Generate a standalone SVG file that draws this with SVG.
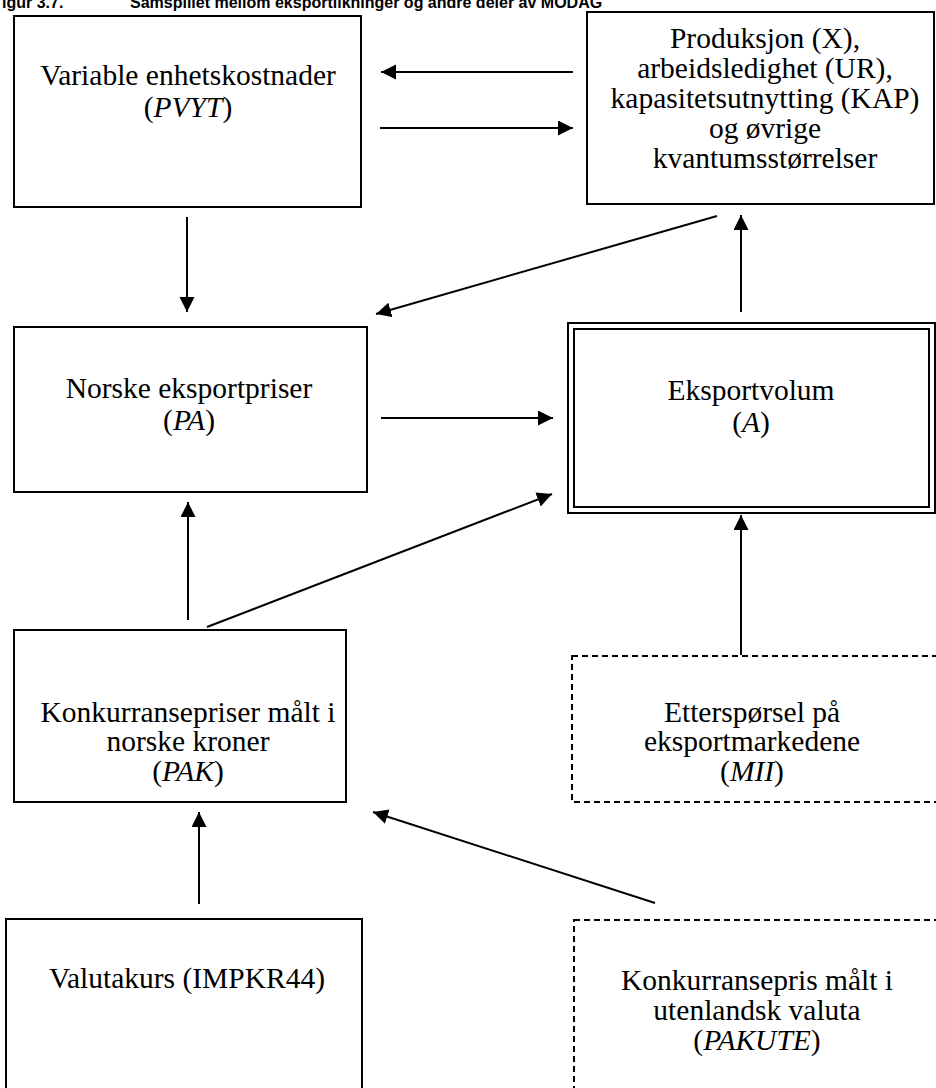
<svg xmlns="http://www.w3.org/2000/svg" width="936" height="1088" viewBox="0 0 936 1088">
<defs>
<marker id="ah" markerWidth="16" markerHeight="16" refX="15" refY="7.5" orient="auto" markerUnits="userSpaceOnUse">
<path d="M0,0 L15,7.5 L0,15 Z" fill="#000"/>
</marker>
<style>
.box{fill:#fff;stroke:#000;stroke-width:2}
.dash{fill:#fff;stroke:#000;stroke-width:2;stroke-dasharray:6 4}
.t{font-family:"Liberation Serif","Times New Roman",serif;font-size:29.5px;fill:#000;text-anchor:middle}
.i{font-style:italic}
.title{font-family:"Liberation Sans",Arial,sans-serif;font-size:16px;font-weight:bold;fill:#000}
.c{stroke:#000;stroke-width:2;fill:none;marker-end:url(#ah)}
</style>
</defs>
<rect width="936" height="1088" fill="#fff"/>
<g id="title">
<text class="title" x="2" y="8">igur 3.7.</text>
<text class="title" x="130" y="8">Samspillet mellom eksportlikninger og andre deler av MODAG</text>
</g>
<g id="n-pvyt">
<rect class="box" x="14" y="16" width="347" height="191"/>
<text class="t" x="188" y="85">Variable enhetskostnader</text>
<text class="t" x="188" y="117">(<tspan class="i">PVYT</tspan>)</text>
</g>
<g id="n-x">
<rect class="box" x="587" y="12" width="347" height="192"/>
<text class="t" x="765" y="48">Produksjon (X),</text>
<text class="t" x="765" y="78">arbeidsledighet (UR),</text>
<text class="t" x="765" y="108">kapasitetsutnytting (KAP)</text>
<text class="t" x="765" y="138">og øvrige</text>
<text class="t" x="765" y="168">kvantumsstørrelser</text>
</g>
<g id="n-pa">
<rect class="box" x="14" y="327" width="353" height="165"/>
<text class="t" x="189" y="398">Norske eksportpriser</text>
<text class="t" x="189" y="430">(<tspan class="i">PA</tspan>)</text>
</g>
<g id="n-a">
<rect class="box" x="568" y="323" width="367" height="190"/>
<rect class="box" x="574" y="329" width="355" height="178"/>
<text class="t" x="751" y="400">Eksportvolum</text>
<text class="t" x="751" y="432">(<tspan class="i">A</tspan>)</text>
</g>
<g id="n-pak">
<rect class="box" x="14" y="630" width="332" height="172"/>
<text class="t" x="188" y="722">Konkurransepriser målt i</text>
<text class="t" x="188" y="751">norske kroner</text>
<text class="t" x="188" y="781">(<tspan class="i">PAK</tspan>)</text>
</g>
<g id="n-mii">
<rect class="dash" x="572" y="656" width="366" height="146"/>
<text class="t" x="752" y="722">Etterspørsel på</text>
<text class="t" x="752" y="751">eksportmarkedene</text>
<text class="t" x="752" y="781">(<tspan class="i">MII</tspan>)</text>
</g>
<g id="n-valuta">
<rect class="box" x="6" y="919" width="356" height="180"/>
<text class="t" x="187" y="988">Valutakurs (IMPKR44)</text>
</g>
<g id="n-pakute">
<rect class="dash" x="574" y="920" width="366" height="180"/>
<text class="t" x="757" y="990">Konkurransepris målt i</text>
<text class="t" x="757" y="1020">utenlandsk valuta</text>
<text class="t" x="757" y="1050">(<tspan class="i">PAKUTE</tspan>)</text>
</g>
<g id="connectors">
<line class="c" x1="573" y1="72" x2="381" y2="72"/>
<line class="c" x1="380" y1="128" x2="573" y2="128"/>
<line class="c" x1="187" y1="217" x2="187" y2="312"/>
<line class="c" x1="717" y1="216" x2="376" y2="314"/>
<line class="c" x1="741" y1="312" x2="741" y2="215"/>
<line class="c" x1="381" y1="418" x2="553" y2="418"/>
<line class="c" x1="188" y1="620" x2="188" y2="502"/>
<line class="c" x1="207" y1="627" x2="552" y2="494"/>
<line class="c" x1="741" y1="655" x2="741" y2="515"/>
<line class="c" x1="199" y1="904" x2="199" y2="812"/>
<line class="c" x1="655" y1="903" x2="373" y2="812"/>
</g>
</svg>
